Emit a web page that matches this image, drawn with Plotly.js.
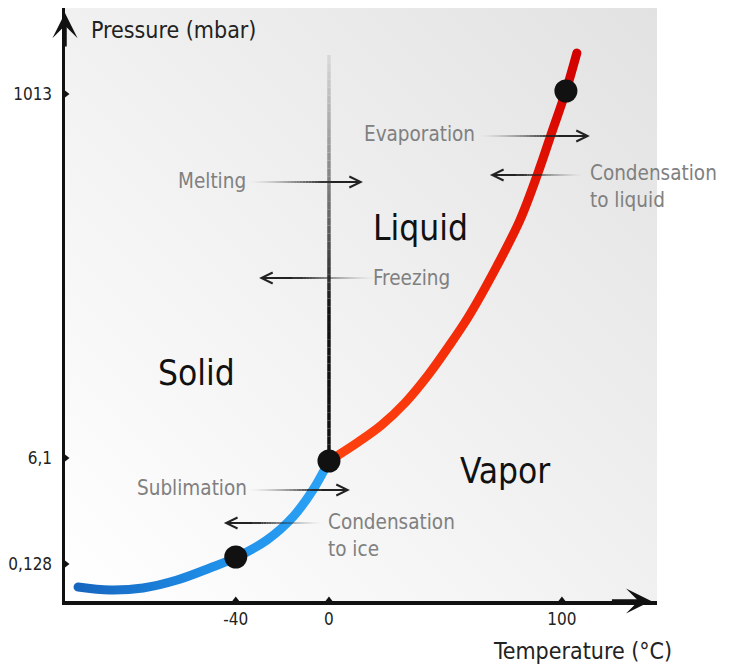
<!DOCTYPE html>
<html>
<head>
<meta charset="utf-8">
<script src="https://cdn.plot.ly/plotly-3.0.1.min.js"></script>
<style>html,body{margin:0;padding:0;background:#fff;}#chart{width:729px;height:666px;}</style>
</head>
<body>
<div id="chart"></div>
<script>
// ---- Data (schematic phase diagram of water; y in schematic display units) ----
const sublimT = [-107.7, -94.0, -79.8, -65.2, -51.1, -39.5, -26.6, -15.5, -6.9, 0];
const sublimP = [14, 11, 13, 21, 33, 44, 61, 84, 111, 140];
const vaporT = [0, 12.6, 22.6, 32.6, 42.6, 51.2, 59.8, 72.1, 82.0, 89.7, 95.7, 101.7, 106.4];
const vaporP = [140, 159, 176, 198, 226, 254, 284, 335, 381, 428, 469, 510, 548];
const meltT = [0, 0];
const meltP = [140, 546];
const pointT = [-40, 0, 101.7];
const pointP = [44, 140, 510];
const xTickVals = [-40, 0, 100];
const xTickText = ['-40', '0', '100'];
const yTickVals = [37, 143, 507];
const yTickText = ['0,128', '6,1', '1013'];
const phaseNames = ['Solid', 'Liquid', 'Vapor'];
const phaseT = [-56.7, 39.1, 75.5];
const phaseP = [228, 373, 130];
const procNames = ['Melting', 'Freezing', 'Evaporation', 'Condensation<br>to liquid', 'Sublimation', 'Condensation<br>to ice'];
const procT = [-34.8, 18.0, 63.5, 111.2, -34.3, -1.2];
const procP = [420, 323, 467, 415, 113, 66];
const procAlign = ['right', 'left', 'right', 'left', 'right', 'left'];
const arrowTail = [-33.9, 19.7, 64.8, 108.6, -33.9, -3.0];
const arrowTip = [14.6, -30.0, 112.0, 69.1, 9.0, -45.1];
const arrowP = [419, 323, 465, 426, 111, 78];

const X_RANGE = [-113.3, 140.8];
const Y_RANGE = [0, 593];
const FONT = 'DejaVu Sans Condensed, DejaVu Sans, sans-serif';

function hex2rgb(h){return [parseInt(h.slice(1,3),16),parseInt(h.slice(3,5),16),parseInt(h.slice(5,7),16)];}
function mix(c1,c2,t){const a=hex2rgb(c1),b=hex2rgb(c2);return 'rgb('+a.map((v,i)=>Math.round(v+(b[i]-v)*t)).join(',')+')';}

const traces = [
  {x:sublimT, y:sublimP, mode:'lines', type:'scatter', line:{shape:'spline', smoothing:1, color:'#1f88e0', width:9},
   hoverinfo:'skip', showlegend:false, cliponaxis:false},
  {x:vaporT, y:vaporP, mode:'lines', type:'scatter', line:{shape:'spline', smoothing:1, color:'#e81a05', width:9},
   hoverinfo:'skip', showlegend:false, cliponaxis:false},
  // axis tick markers
  {x:yTickVals.map(()=>X_RANGE[0]), y:yTickVals, mode:'markers', type:'scatter',
   marker:{symbol:'triangle-right', size:9, color:'#111'}, hoverinfo:'skip', showlegend:false, cliponaxis:false},
  {x:xTickVals, y:xTickVals.map(()=>Y_RANGE[0]), mode:'markers', type:'scatter',
   marker:{symbol:'triangle-up', size:9, color:'#111'}, hoverinfo:'skip', showlegend:false, cliponaxis:false},
  // key points
  {x:pointT, y:pointP, mode:'markers', type:'scatter', marker:{size:23, color:'#111'},
   hoverinfo:'skip', showlegend:false, cliponaxis:false}
];

const shapes = [];
// melting line with fading top
(function(){
  const y0 = meltP[0], y1 = meltP[1], n = 50;
  for(let i=0;i<n;i++){
    const a = y0 + (y1-y0)*i/n, b = y0 + (y1-y0)*(i+1)/n;
    const t = (i+0.5)/n;
    const f = t < 0.38 ? 0 : Math.pow((t-0.38)/0.62, 0.85);
    shapes.push({type:'line', xref:'x', yref:'y', x0:meltT[0], x1:meltT[1], y0:a, y1:b,
      line:{color:mix('#111111','#dadada',f), width:3.5}});
  }
})();

const annotations = [];
// process arrows with fading tails
for(let k=0;k<arrowTail.length;k++){
  const x0 = arrowTail[k], x1 = arrowTip[k], y = arrowP[k];
  const fadeEnd = 0.62, n = 24;
  for(let i=0;i<n;i++){
    const a = x0 + (x1-x0)*fadeEnd*i/n, b = x0 + (x1-x0)*fadeEnd*(i+1)/n;
    shapes.push({type:'line', xref:'x', yref:'y', x0:a, x1:b, y0:y, y1:y,
      line:{color:'#222', width:2}, opacity: Math.pow((i+0.5)/n, 1.4)*0.88});
  }
  shapes.push({type:'line', xref:'x', yref:'y', x0:x0+(x1-x0)*fadeEnd, x1:x0+(x1-x0)*0.95, y0:y, y1:y,
    line:{color:'#222', width:2}, opacity:0.9});
  annotations.push({x:x1, y:y, ax:x0+(x1-x0)*0.7, ay:y, axref:'x', ayref:'y', xref:'x', yref:'y',
    text:'', showarrow:true, arrowhead:5, arrowwidth:2, arrowsize:1.1, arrowcolor:'#222'});
}
// phase labels
for(let i=0;i<phaseNames.length;i++){
  annotations.push({x:phaseT[i], y:phaseP[i], xref:'x', yref:'y', text:phaseNames[i], showarrow:false,
    font:{family:FONT, size:35, color:'#111'}, xanchor:'center', yanchor:'middle'});
}
// process labels
for(let i=0;i<procNames.length;i++){
  annotations.push({x:procT[i], y:procP[i], xref:'x', yref:'y', text:procNames[i], showarrow:false,
    font:{family:FONT, size:20.5, color:'#808080'}, xanchor:procAlign[i], yanchor:'middle', align:'left'});
}
// axis titles
annotations.push({xref:'paper', yref:'paper', x:(89-65)/592, y:(601-30)/593, text:'Pressure (mbar)', showarrow:false,
  font:{family:FONT, size:23, color:'#222'}, xanchor:'left', yanchor:'middle'});
annotations.push({xref:'paper', yref:'paper', x:(674-65)/592, y:(601-651)/593, text:'Temperature (°C)', showarrow:false,
  font:{family:FONT, size:23, color:'#222'}, xanchor:'right', yanchor:'middle'});
// axis arrowheads
annotations.push({x:X_RANGE[0], y:Y_RANGE[1]-5, ax:X_RANGE[0], ay:Y_RANGE[1]-40, axref:'x', ayref:'y', xref:'x', yref:'y',
  text:'', showarrow:true, arrowhead:3, arrowwidth:3.5, arrowsize:1.2, arrowcolor:'#111'});
annotations.push({x:X_RANGE[1]-2.5, y:Y_RANGE[0], ax:X_RANGE[1]-20, ay:Y_RANGE[0], axref:'x', ayref:'y', xref:'x', yref:'y',
  text:'', showarrow:true, arrowhead:3, arrowwidth:3.5, arrowsize:1.2, arrowcolor:'#111'});

const gradSvg = '<svg xmlns="http://www.w3.org/2000/svg" width="592" height="593" viewBox="0 0 592 593" preserveAspectRatio="none">'+
  '<defs><linearGradient id="g" x1="0" y1="1" x2="1" y2="0"><stop offset="0" stop-color="#ffffff"/><stop offset="0.45" stop-color="#f2f2f2"/><stop offset="1" stop-color="#e2e2e2"/></linearGradient></defs>'+
  '<rect width="592" height="593" fill="url(#g)"/></svg>';

const layout = {
  width:729, height:666,
  margin:{l:65, r:72, t:8, b:65, pad:0},
  paper_bgcolor:'#ffffff', plot_bgcolor:'rgba(0,0,0,0)',
  showlegend:false,
  xaxis:{range:X_RANGE, showgrid:false, zeroline:false, showline:true, linewidth:3.5, linecolor:'#111',
    tickmode:'array', tickvals:xTickVals, ticktext:xTickText, ticks:'', ticklabelstandoff:0,
    tickfont:{family:FONT, size:17, color:'#222'}, fixedrange:true},
  yaxis:{range:Y_RANGE, showgrid:false, zeroline:false, showline:true, linewidth:3.5, linecolor:'#111',
    tickmode:'array', tickvals:yTickVals, ticktext:yTickText, ticks:'', ticklabelstandoff:6,
    tickfont:{family:FONT, size:17, color:'#222'}, fixedrange:true},
  images:[{source:'data:image/svg+xml;charset=utf-8,'+encodeURIComponent(gradSvg), xref:'paper', yref:'paper',
    x:0, y:1, sizex:1, sizey:1, sizing:'stretch', xanchor:'left', yanchor:'top', layer:'below'}],
  shapes:shapes,
  annotations:annotations
};

function addGradient(svg, id, x1, y1, x2, y2, stops){
  const NS = 'http://www.w3.org/2000/svg';
  let defs = svg.querySelector('defs');
  if(!defs){ defs = document.createElementNS(NS, 'defs'); svg.insertBefore(defs, svg.firstChild); }
  const g = document.createElementNS(NS, 'linearGradient');
  g.setAttribute('id', id);
  g.setAttribute('x1', x1); g.setAttribute('y1', y1); g.setAttribute('x2', x2); g.setAttribute('y2', y2);
  stops.forEach(([o, c]) => {
    const s = document.createElementNS(NS, 'stop');
    s.setAttribute('offset', o); s.setAttribute('stop-color', c);
    g.appendChild(s);
  });
  defs.appendChild(g);
}

const gd = document.getElementById('chart');
Plotly.newPlot(gd, traces, layout, {staticPlot:true, displayModeBar:false}).then(() => {
  const svg = gd.querySelector('svg.main-svg');
  addGradient(svg, 'blueGrad', 0, 0, 1, 0, [[0, '#1766bf'], [0.55, '#1f8fe8'], [1, '#2ba3f6']]);
  addGradient(svg, 'redGrad', 0, 1, 0, 0, [[0, '#ff420f'], [0.45, '#ee2205'], [1, '#d20000']]);
  const lines = gd.querySelectorAll('.scatterlayer .trace path.js-line');
  if(lines[0]){ lines[0].style.stroke = 'url(#blueGrad)'; lines[0].style.strokeLinecap = 'round'; }
  if(lines[1]){ lines[1].style.stroke = 'url(#redGrad)'; lines[1].style.strokeLinecap = 'round'; }
});
</script>
</body>
</html>
